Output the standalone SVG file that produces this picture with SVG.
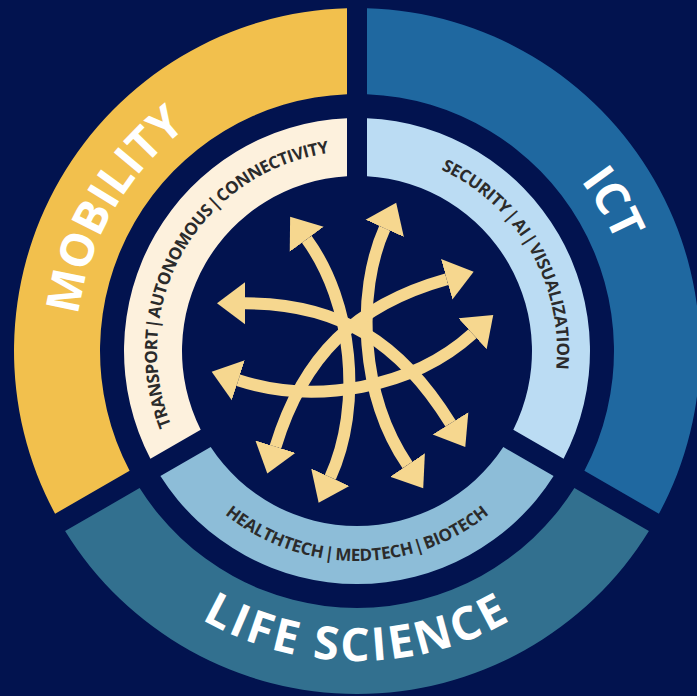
<svg xmlns="http://www.w3.org/2000/svg" width="697" height="696" viewBox="0 0 697 696">
<style>
.big{font-family:"Open Sans","Liberation Sans",sans-serif;font-weight:700;font-size:46px;fill:#ffffff}
.small{font-family:"Open Sans","Liberation Sans",sans-serif;font-weight:700;font-size:17px;fill:#2b2b2b;word-spacing:-2.5px}
.arrow{fill:none;stroke:#f6d78f;stroke-width:12;marker-start:url(#ah);marker-end:url(#ah)}
</style>
<defs>
<marker id="ah" markerUnits="userSpaceOnUse" markerWidth="30" markerHeight="44" viewBox="0 0 30 44" refX="0" refY="22" orient="auto-start-reverse">
<path d="M0 1 L28 22 L0 43 Z" fill="#f6d78f"/>
</marker>
<path id="tpMob" d="M113.65 491.5 A281 281 0 0 1 357 70"/>
<path id="tpIct" d="M357 70 A281 281 0 0 1 600.35 491.5"/>
<path id="tpLife" d="M88.53 506 A310 310 0 0 0 625.47 506"/>
<path id="tpTrans" d="M183.8 451 A200 200 0 0 1 357 151"/>
<path id="tpSec" d="M357 151 A200 200 0 0 1 530.2 451"/>
<path id="tpHealth" d="M175.13 456 A210 210 0 0 0 538.87 456"/>
</defs>
<rect width="697" height="696" fill="#02134f"/>
<g id="mobility">
<path d="M55.09 513.77 A343 343 0 0 1 347 8.15 L347 94.2 A257 257 0 0 0 129.61 470.74 Z" fill="#f2c04d"/>
<text class="big"><textPath href="#tpMob" startOffset="50%" text-anchor="middle">MOBILITY</textPath></text>
</g>
<g id="ict">
<path d="M367 8.15 A343 343 0 0 1 658.91 513.77 L584.39 470.74 A257 257 0 0 0 367 94.2 Z" fill="#1f68a0"/>
<text class="big"><textPath href="#tpIct" startOffset="50%" text-anchor="middle">ICT</textPath></text>
</g>
<g id="life-science">
<path d="M648.91 531.09 A343 343 0 0 1 65.09 531.09 L139.61 488.06 A257 257 0 0 0 574.39 488.06 Z" fill="#32708f"/>
<text class="big" letter-spacing="2.8"><textPath href="#tpLife" startOffset="50%" text-anchor="middle">LIFE SCIENCE</textPath></text>
</g>
<g id="mobility-topics">
<path d="M150.41 458.73 A233 233 0 0 1 347 118.22 L347 176.29 A175 175 0 0 0 200.7 429.7 Z" fill="#fdf1dd"/>
<text class="small" font-size="16.8" letter-spacing="-0.5"><textPath href="#tpTrans" startOffset="50%" text-anchor="middle">TRANSPORT | AUTONOMOUS | CONNECTIVITY</textPath></text>
</g>
<g id="ict-topics">
<path d="M367 118.22 A233 233 0 0 1 563.59 458.73 L513.3 429.7 A175 175 0 0 0 367 176.29 Z" fill="#bbdcf3"/>
<text class="small" letter-spacing="-0.3"><textPath href="#tpSec" startOffset="50%" text-anchor="middle">SECURITY | AI | VISUALIZATION</textPath></text>
</g>
<g id="life-topics">
<path d="M553.59 476.05 A233 233 0 0 1 160.41 476.05 L210.7 447.02 A175 175 0 0 0 503.3 447.02 Z" fill="#8dbdd8"/>
<text class="small" font-size="18" letter-spacing="-0.2"><textPath href="#tpHealth" startOffset="50%" text-anchor="middle">HEALTHTECH | MEDTECH | BIOTECH</textPath></text>
</g>
<g id="connectors">
<path class="arrow" d="M245 303.3 C340 303.3 400.4 342.6 450.5 423.3"/>
<path class="arrow" d="M238.3 380.3 C315.3 405.3 412.5 388.2 472.5 333.8"/>
<path class="arrow" d="M384.7 228.3 C356 292.1 359.8 394.7 407.5 465"/>
<path class="arrow" d="M306.7 239.3 C352.9 302.2 362.8 406.3 330.3 477.2"/>
<path class="arrow" d="M446.7 279.2 C355.2 304.9 303.3 355.9 275.5 446.7"/>
</g>
</svg>
